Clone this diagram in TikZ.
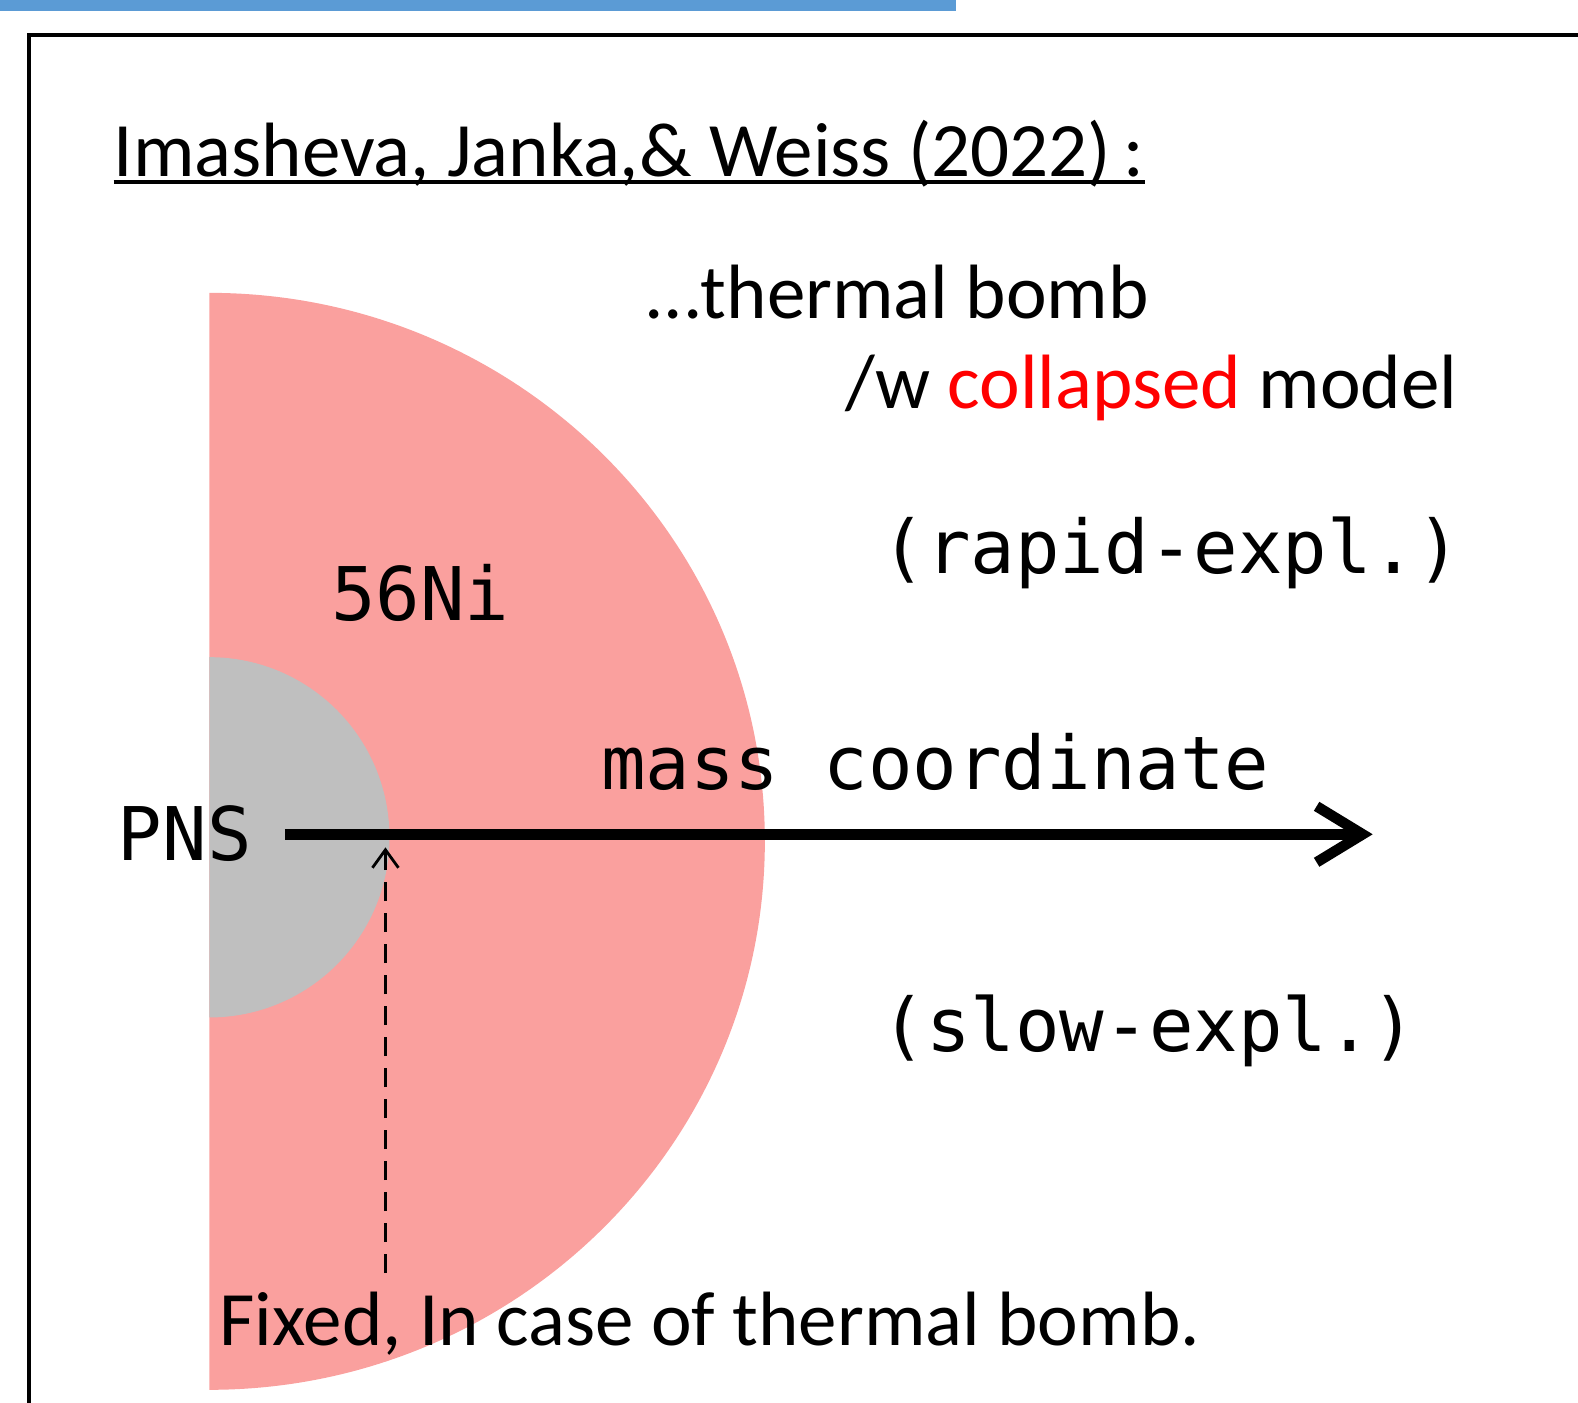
\documentclass[tikz,border=0pt]{standalone}
\usepackage{fontspec}
\setmainfont{Carlito}
\newfontfamily\monof{DejaVu Sans Mono}
\usetikzlibrary{arrows.meta}
\definecolor{pinkfill}{RGB}{250,160,158}
\definecolor{grayfill}{RGB}{191,191,191}
\definecolor{barblue}{RGB}{91,155,213}
\definecolor{redtxt}{RGB}{255,0,0}
\tikzset{
  calib/.style={inner sep=0pt, font=\fontsize{77}{90}\selectfont},
  monolab/.style={inner sep=0pt, font=\monof\fontsize{74}{86}\selectfont},
}
\begin{document}
\begin{tikzpicture}[x=1.0064pt,y=-1.0064pt]
\useasboundingbox (0,0) rectangle (1568,1394);
% top blue bar
\fill[barblue] (0,0) rectangle (950,11);
% frame
\draw[line width=4pt] (29,1410) -- (29,35) -- (1590,35);
% half discs
\fill[pinkfill] (208,291) arc[start angle=-90,end angle=90,x radius=552,y radius=545] -- cycle;
\fill[grayfill] (208,653) arc[start angle=-90,end angle=90,radius=179] -- cycle;
% title
\node[calib, anchor=base west] (title) at (113,175) {Imasheva, Janka,\& Weiss (2022)\,:};
\draw[line width=4.5pt] ([yshift=-6pt]title.base west) -- ([yshift=-6pt]title.base east);
% texts
\node[calib, anchor=base west] (tb) at (640,316) {...thermal bomb};
\node[calib, anchor=base west] (wc) at (840,406) {/w \textcolor{redtxt}{collapsed} model};
\node[monolab, anchor=base west] (rapid) at (876,570) {(rapid-expl.)};
\node[monolab, anchor=base west] (ni) at (329,617) {56Ni};
\node[monolab, anchor=base west] (mass) at (597,784) {mass coordinate};
\node[monolab, anchor=base west] (pns) at (117,855) {PNS};
\node[monolab, anchor=base west] (slow) at (876,1045) {(slow-expl.)};
\node[calib, anchor=base west] (fixed) at (218,1337) {Fixed, In case of thermal bomb.};
% arrows
\coordinate (as) at (283,829);
\coordinate (ae) at (1364,829);
\draw[line width=10.5pt, -{Straight Barb[length=46pt,width=56pt,line width=10.5pt]}] (as) -- (ae);
\coordinate (ds) at (383,1265);
\coordinate (de) at (383,842);
\draw[line width=3.8pt, dash pattern=on 19pt off 12pt, -{Straight Barb[length=18pt,width=26pt,line width=2.8pt]}] (ds) -- (de);
\end{tikzpicture}
\end{document}
